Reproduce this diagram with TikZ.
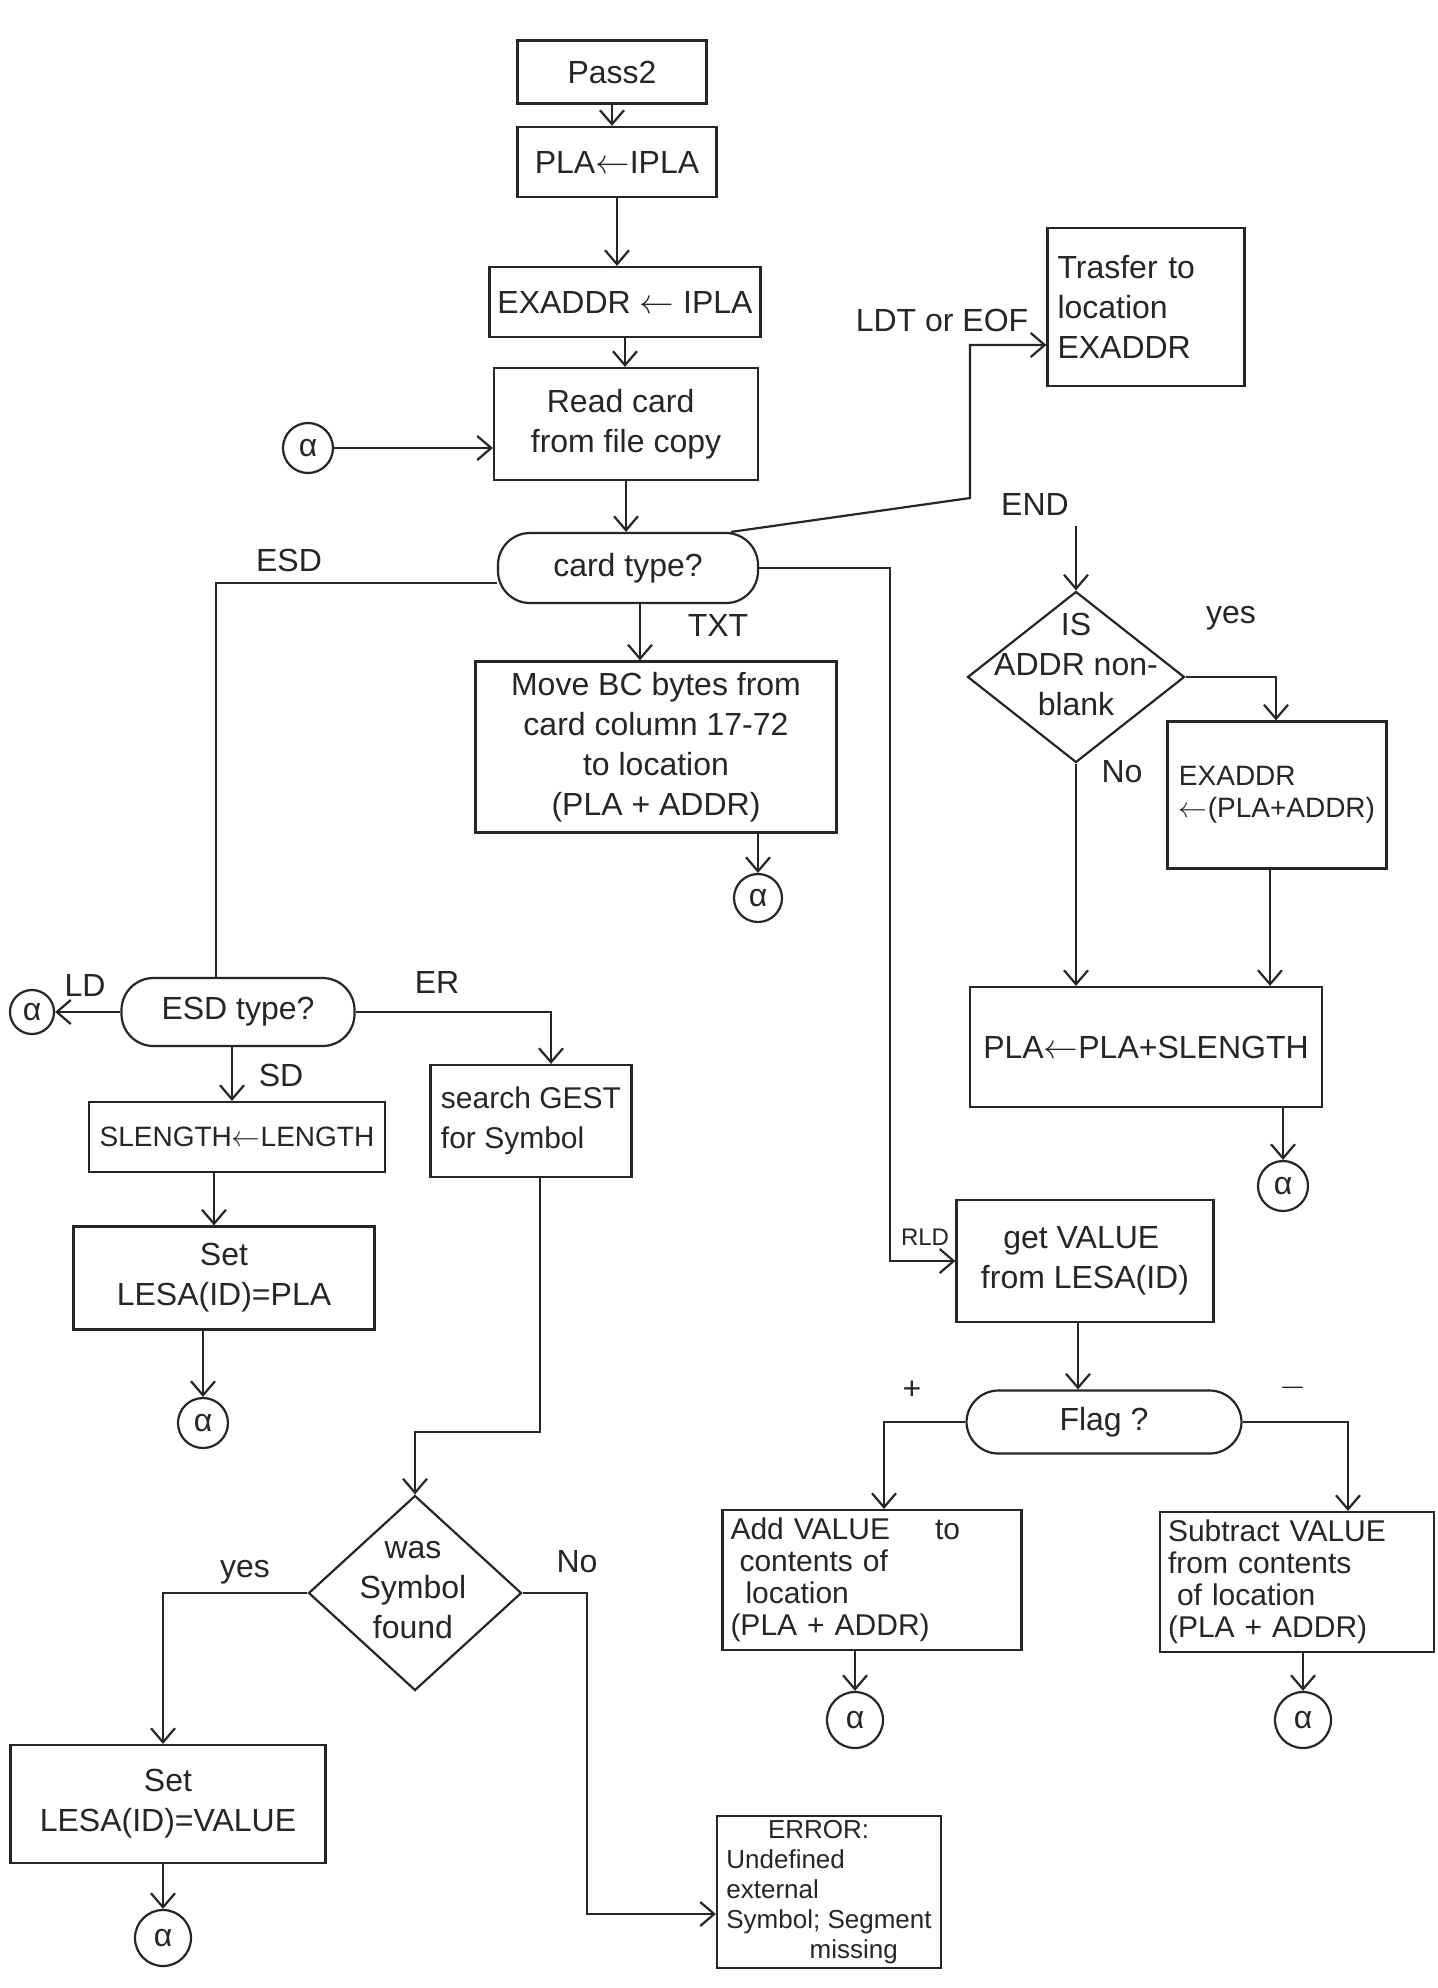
\documentclass[tikz,border=0pt]{standalone}
\usepackage{fontspec}
\setmainfont{Liberation Sans}
\usetikzlibrary{arrows.meta,shapes.geometric}
\definecolor{ink}{RGB}{38,38,38}
\begin{document}
\begin{tikzpicture}[x=0.5pt,y=-0.5pt,
  every node/.style={font=\fontsize{16}{20}\selectfont, text=ink},
  box/.style={draw=ink, line width=1.1pt, rectangle, inner sep=2pt, align=center},
  rbox/.style={box, rounded corners=16pt},
  dia/.style={draw=ink, line width=1.1pt, diamond, inner sep=0pt},
  conn/.style={draw=ink, line width=1.1pt, circle, inner sep=0pt},
  lbl/.style={inner sep=1pt},
  small/.style={font=\fontsize{14}{16}\selectfont},
  arr/.style={draw=ink, line width=1.1pt, -{Straight Barb[length=7pt,width=12pt]}},
  ln/.style={draw=ink, line width=1.1pt}]
\fill[white] (0,0) rectangle (1438,1988);
\useasboundingbox (0,0) rectangle (1438,1988);

% ---- main column
\node[box, minimum width=94.5pt, minimum height=31.5pt] (pass) at (612,72) {Pass2};
\node[box, minimum width=99.5pt, minimum height=35pt] (pla) at (617,162) {PLA$\leftarrow$IPLA};
\node[box, minimum width=135.5pt, minimum height=35pt] (exaddr) at (625,302) {EXADDR $\leftarrow$ IPLA};
\node[box, minimum width=132pt, minimum height=56pt, align=left] (read) at (626,424) {\hspace*{0.5em}Read card\\from file copy};
\node[conn, minimum size=25pt] (a1) at (308,448) {α};
\node[rbox, minimum width=130pt, minimum height=35pt] (ct) at (628,568) {card type?};
\node[box, inner sep=5pt, text width=88.5pt, minimum height=79pt, align=left] (transfer) at (1146,307) {Trasfer to\\location\\EXADDR};
\node[box, minimum width=180.5pt, minimum height=85.5pt] (move) at (656,747) {Move BC bytes from\\card column 17-72\\to location\\(PLA + ADDR)};
\node[conn, minimum size=24pt] (a2) at (758,898) {α};

% ---- END branch
\node[dia, minimum width=108.5pt, minimum height=85.5pt] (isd) at (1076,677) {};
\node[align=center] (isdt) at (1076,664) {IS\\ADDR non-\\blank};
\node[box, small, minimum width=109.5pt, minimum height=73.5pt, align=left] (exr) at (1277,795) {EXADDR\\$\leftarrow$(PLA+ADDR)};
\node[box, minimum width=176pt, minimum height=60pt] (plas) at (1146,1047) {PLA$\leftarrow$PLA+SLENGTH};
\node[conn, minimum size=25pt] (a3) at (1283,1186) {α};

% ---- RLD branch
\node[box, minimum width=128.5pt, minimum height=61pt, align=left] (getv) at (1085,1261) {\hspace*{0.7em}get VALUE\\from LESA(ID)};
\node[rbox, minimum width=137.5pt, minimum height=31.5pt] (flag) at (1104,1422) {Flag ?};
\node[box, inner sep=4pt, text width=141.5pt, minimum height=65.5pt, align=left, font=\fontsize{15}{16}\selectfont] (add) at (872,1580) {Add VALUE\hspace{1.5em}to\\\hspace*{0.3em}contents of\\\hspace*{0.5em}location\\(PLA + ADDR)};
\node[box, inner sep=4pt, text width=129pt, minimum height=65.5pt, align=left, font=\fontsize{15}{16}\selectfont] (sub) at (1297,1582) {Subtract VALUE\\from contents\\\hspace*{0.3em}of location\\(PLA + ADDR)};
\node[conn, minimum size=28pt] (a4) at (855,1720) {α};
\node[conn, minimum size=28pt] (a5) at (1303,1720) {α};

% ---- ESD branch
\node[rbox, minimum width=116.5pt, minimum height=34pt] (esd) at (238,1012) {ESD type?};
\node[conn, minimum size=22pt] (a6) at (32,1012) {α};
\node[box, minimum width=100.5pt, minimum height=56pt, align=left, font=\fontsize{15}{20}\selectfont] (search) at (531,1121) {search GEST\\for Symbol};
\node[box, small, minimum width=148pt, minimum height=35pt] (slen) at (237,1137) {SLENGTH$\leftarrow$LENGTH};
\node[box, minimum width=150.5pt, minimum height=51.5pt] (setpla) at (224,1278) {Set\\LESA(ID)=PLA};
\node[conn, minimum size=25pt] (a7) at (203,1423) {α};
\node[dia, minimum width=106.5pt, minimum height=97.5pt] (wsf) at (415,1593) {};
\node[align=center] (wsft) at (413,1590) {was\\Symbol\\found};
\node[box, minimum width=157.5pt, minimum height=59pt] (setval) at (168,1804) {Set\\LESA(ID)=VALUE};
\node[conn, minimum size=28pt] (a8) at (163,1938) {α};
\node[box, inner sep=0.5pt, minimum width=112pt, minimum height=76pt, align=left, font=\fontsize{13}{15}\selectfont] (err) at (829,1892) {\hspace*{1.6em}ERROR:\\Undefined\\external\\Symbol; Segment\\\hspace*{3.2em}missing};

% ---- labels
\node[lbl] (lldt) at (942,320) {LDT or EOF};
\node[lbl] (lend) at (1035,504) {END};
\node[lbl] (ltxt) at (718,625) {TXT};
\node[lbl] (lesd) at (289,560) {ESD};
\node[lbl] (lld) at (85,985) {LD};
\node[lbl] (ler) at (437,982) {ER};
\node[lbl] (lsd) at (281,1075) {SD};
\node[lbl] (lyes1) at (1231,618) {yes};
\node[lbl] (lno1) at (1122,772) {No};
\node[lbl, font=\fontsize{12}{14}\selectfont] (lrld) at (925,1237) {RLD};
\node[lbl] (lplus) at (912,1390) {+};
\node[lbl] (lminus) at (1293,1388) {$-$};
\node[lbl] (lyes2) at (245,1572) {yes};
\node[lbl] (lno2) at (577,1562) {No};

% ---- coordinates for bends
\coordinate (tj1) at (970,498);
\coordinate (tj2) at (970,345);
\coordinate (endst) at (1069,526);
\coordinate (txx) at (640,0);
\coordinate (rx) at (890,0);
\coordinate (ex) at (216,583);
\coordinate (erx) at (551,0);
\coordinate (sdx) at (232,0);
\coordinate (s2x) at (214,0);
\coordinate (sw) at (540,1432);
\coordinate (yx) at (163,0);
\coordinate (nx) at (587,1914);
\coordinate (iyx) at (1276,0);
\coordinate (ex2) at (1270,0);
\coordinate (gx) at (1078,0);
\coordinate (fl) at (884,0);
\coordinate (fr) at (1348,0);

% ---- connectors
\draw[arr] (pass.south) -- (pass.south |- pla.north);
\draw[arr] (pla.south) -- (pla.south |- exaddr.north);
\draw[arr] (exaddr.south) -- (exaddr.south |- read.north);
\draw[arr] (a1.east) -- (a1.east -| read.west);
\draw[arr] (read.south) -- (read.south |- ct.north);
\draw[arr] ([xshift=-14pt]ct.north east) -- (tj1) -- (tj2) -- (tj2 -| transfer.west);
\draw[arr] (isd.north |- endst) -- (isd.north);
\draw[arr] (ct.south -| txx) -- (move.north -| txx);
\draw[arr] (move.south -| a2) -- (a2.north);
\draw[arr] (ct.east) -- (ct.east -| rx) -- (getv.west -| rx) -- (getv.west);
\draw[ln] (ct.west |- ex) -- (ex) -- (ex |- esd.north);
\draw[arr] (esd.west) -- (a6.east);
\draw[arr] (esd.east) -- (esd.east -| erx) -- (search.north -| erx);
\draw[arr] (esd.south -| sdx) -- (slen.north -| sdx);
\draw[arr] (slen.south -| s2x) -- (setpla.north -| s2x);
\draw[arr] (setpla.south -| a7) -- (a7.north);
\draw[arr] (search.south -| sw) -- (sw) -- (sw -| wsf.north) -- (wsf.north);
\draw[arr] (wsf.west) -- (wsf.west -| yx) -- (setval.north -| yx);
\draw[arr] (wsf.east) -- (wsf.east -| nx) -- (nx) -- (nx -| err.west);
\draw[arr] (setval.south -| a8) -- (a8.north);
\draw[arr] (isd.east) -- (isd.east -| iyx) -- (exr.north -| iyx);
\draw[arr] (isd.south) -- (isd.south |- plas.north);
\draw[arr] (exr.south -| ex2) -- (plas.north -| ex2);
\draw[arr] (plas.south -| a3) -- (a3.north);
\draw[arr] (getv.south -| gx) -- (flag.north -| gx);
\draw[arr] (flag.west) -- (flag.west -| fl) -- (add.north -| fl);
\draw[arr] (flag.east) -- (flag.east -| fr) -- (sub.north -| fr);
\draw[arr] (add.south -| a4) -- (a4.north);
\draw[arr] (sub.south -| a5) -- (a5.north);
\end{tikzpicture}
\end{document}
